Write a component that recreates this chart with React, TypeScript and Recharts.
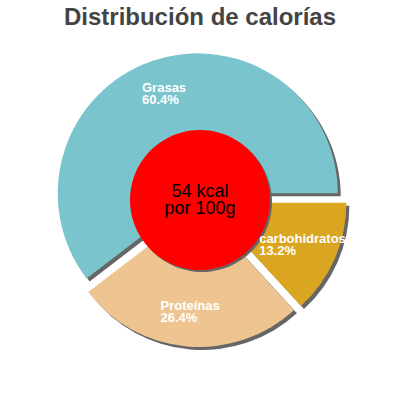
import { PieChart, Pie, Sector } from 'recharts';

const categories = ['Grasas', 'Proteínas', 'carbohidratos'];
const percentages = [60.4, 26.4, 13.2];
const sliceColors = ['#7AC5CD', '#EEC591', '#DAA520'];
const energyKcal = 54;
const centerLines = ['54 kcal', 'por 100g'];
const title = 'Distribución de calorías';

const EXPLODE = 7;
const LABEL_RADIUS = 105;
const LABEL_FONT = 'bold 13px "Liberation Sans", Arial, sans-serif';

const sliceData = categories.map((name, i) => ({
    name,
    value: percentages[i],
    fill: sliceColors[i],
}));

const centerData = [{ name: 'kcal', value: energyKcal, fill: '#FF0000' }];

let measureCtx: CanvasRenderingContext2D | null = null;
function textWidth(text: string) {
    if (!measureCtx) {
        measureCtx = document.createElement('canvas').getContext('2d');
    }
    if (!measureCtx) return text.length * 6.8;
    measureCtx.font = LABEL_FONT;
    return measureCtx.measureText(text).width;
}

function explodeOffset(midAngle: number) {
    const rad = (midAngle * Math.PI) / 180;
    return { dx: EXPLODE * Math.cos(rad), dy: -EXPLODE * Math.sin(rad) };
}

const renderSlice = (props: any) => {
    const { cx, cy, midAngle, innerRadius, outerRadius, startAngle, endAngle, fill } = props;
    const { dx, dy } = explodeOffset(midAngle);
    return (
        <g>
            <Sector cx={cx + dx + 3} cy={cy + dy + 3} innerRadius={innerRadius} outerRadius={outerRadius}
                startAngle={startAngle} endAngle={endAngle} fill="#666666" stroke="none" />
            <Sector cx={cx + dx} cy={cy + dy} innerRadius={innerRadius} outerRadius={outerRadius}
                startAngle={startAngle} endAngle={endAngle} fill={fill} stroke="none" />
        </g>
    );
};

const renderSliceLabel = (props: any) => {
    const { cx, cy, midAngle, name, value } = props;
    const { dx, dy } = explodeOffset(midAngle);
    const rad = (midAngle * Math.PI) / 180;
    const px = cx + dx + LABEL_RADIUS * Math.cos(rad);
    const py = cy + dy - LABEL_RADIUS * Math.sin(rad);
    const left = px - textWidth(name) / 2;
    return (
        <text x={left} y={py - 2} fill="#ffffff" fontFamily='"Liberation Sans", Arial, sans-serif'
            fontSize={13} fontWeight="bold" textAnchor="start">
            <tspan x={left} y={py - 2}>{name}</tspan>
            <tspan x={left} y={py + 10}>{`${value.toFixed(1)}%`}</tspan>
        </text>
    );
};

const renderCenter = (props: any) => {
    const { cx, cy, innerRadius, outerRadius, startAngle, endAngle, fill } = props;
    return (
        <g>
            <Sector cx={cx + 2} cy={cy + 2} innerRadius={innerRadius} outerRadius={outerRadius}
                startAngle={startAngle} endAngle={endAngle} fill="#666666" stroke="none" />
            <Sector cx={cx} cy={cy} innerRadius={innerRadius} outerRadius={outerRadius}
                startAngle={startAngle} endAngle={endAngle} fill={fill} stroke="none" />
        </g>
    );
};

const renderCenterLabel = (props: any) => {
    const { cx, cy } = props;
    return (
        <text x={cx} textAnchor="middle" fill="#000000" fontFamily='"Liberation Sans", Arial, sans-serif' fontSize={18}>
            <tspan x={cx} y={cy - 3}>{centerLines[0]}</tspan>
            <tspan x={cx} y={cy + 14}>{centerLines[1]}</tspan>
        </text>
    );
};

export default function App() {
    return (
        <div style={{ position: 'absolute', left: 0, top: 0, width: 400, height: 400, background: '#ffffff' }}>
            <div style={{
                position: 'absolute', left: 0, top: 3, width: 400, textAlign: 'center',
                fontFamily: '"Liberation Sans", Arial, sans-serif', fontWeight: 'bold', fontSize: 24,
                color: '#444444', lineHeight: '28px'
            }}>
                {title}
            </div>
            <PieChart width={400} height={400} margin={{ top: 0, right: 0, bottom: 0, left: 0 }}>
                <Pie
                    data={sliceData}
                    dataKey="value"
                    nameKey="name"
                    cx={200}
                    cy={200}
                    innerRadius={0}
                    outerRadius={140}
                    startAngle={0}
                    endAngle={360}
                    stroke="none"
                    shape={renderSlice}
                    label={renderSliceLabel}
                    labelLine={false}
                    isAnimationActive={false}
                />
                <Pie
                    data={centerData}
                    dataKey="value"
                    cx={200}
                    cy={200}
                    innerRadius={0}
                    outerRadius={70}
                    startAngle={0}
                    endAngle={360}
                    stroke="none"
                    shape={renderCenter}
                    label={renderCenterLabel}
                    labelLine={false}
                    isAnimationActive={false}
                />
            </PieChart>
        </div>
    );
}
